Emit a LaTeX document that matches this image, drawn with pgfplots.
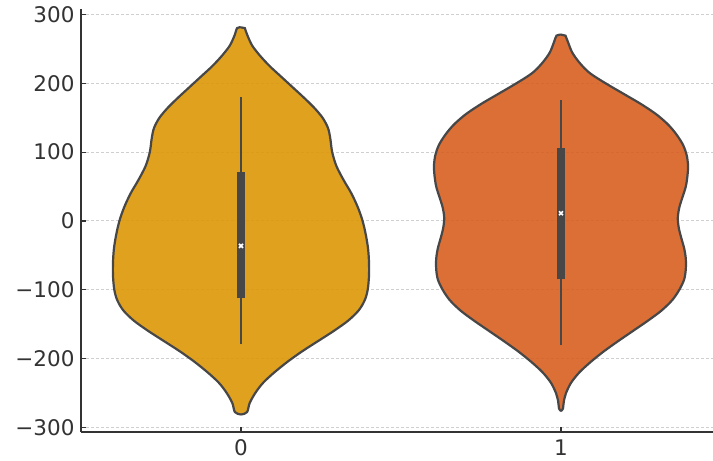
\documentclass[border=0pt]{standalone}
\usepackage{fontspec}
\setmainfont{DejaVu Sans}
\usepackage{pgfplots}
\pgfplotsset{compat=1.18}
\definecolor{goldv}{HTML}{DD9707}
\definecolor{orangev}{HTML}{D75F20}
\definecolor{edgec}{HTML}{474747}
\definecolor{boxc}{HTML}{474747}
\definecolor{gridc}{HTML}{CFCFCF}
\definecolor{axc}{HTML}{333333}
\begin{document}
\begin{tikzpicture}
\begin{axis}[
  scale only axis,
  width=640pt, height=422.5pt,
  xmin=-0.5, xmax=1.5,
  ymin=-307, ymax=307.5,
  axis lines*=left,
  axis line style={color=axc, line width=1.4pt},
  xtick={0,1}, xticklabels={0,1},
  ytick={-300,-200,-100,0,100,200,300},
  yticklabels={−300,−200,−100,0,100,200,300},
  tick align=inside,
  major tick length=5pt,
  tick style={color=axc, line width=1.2pt},
  ymajorgrids,
  grid style={color=gridc, dash pattern=on 3pt off 2pt, line width=0.9pt},
  ticklabel style={font=\fontsize{21.5}{26}\selectfont, text=axc},
  xticklabel style={yshift=-4pt},
  yticklabel style={xshift=-3pt},
  /pgf/number format/assume math mode=true,
]
\coordinate (SW) at (rel axis cs:0,0);
% violin 0
\addplot[draw=edgec, line width=2.2pt, fill=goldv, fill opacity=0.9, smooth, tension=0.5] coordinates {
(0,281.5) (-0.012,280.5) (-0.02,270) (-0.035,255) (-0.06,240) (-0.09,225) (-0.125,210) (-0.16,195) (-0.195,180) (-0.228,165) (-0.255,150) (-0.272,135) (-0.279,120) (-0.285,100) (-0.298,80) (-0.32,60) (-0.345,40) (-0.365,20) (-0.38,0) (-0.39,-20) (-0.397,-40) (-0.4,-60) (-0.4,-80) (-0.396,-100) (-0.387,-115) (-0.368,-130) (-0.335,-145) (-0.29,-160) (-0.24,-175) (-0.19,-190) (-0.145,-205) (-0.105,-220) (-0.07,-235) (-0.045,-250) (-0.027,-265) (-0.019,-278)
(0,-281.5) (0.019,-278) (0.027,-265) (0.045,-250) (0.07,-235) (0.105,-220) (0.145,-205) (0.19,-190) (0.24,-175) (0.29,-160) (0.335,-145) (0.368,-130) (0.387,-115) (0.396,-100) (0.4,-80) (0.4,-60) (0.397,-40) (0.39,-20) (0.38,0) (0.365,20) (0.345,40) (0.32,60) (0.298,80) (0.285,100) (0.279,120) (0.272,135) (0.255,150) (0.228,165) (0.195,180) (0.16,195) (0.125,210) (0.09,225) (0.06,240) (0.035,255) (0.02,270) (0.012,280.5)
} -- cycle;
% violin 1
\addplot[draw=edgec, line width=2.2pt, fill=orangev, fill opacity=0.9, smooth, tension=0.5] coordinates {
(1,271) (0.986,269.5) (0.978,260) (0.965,245) (0.942,230) (0.91,215) (0.86,200) (0.805,185) (0.75,170) (0.702,155) (0.665,140) (0.638,125) (0.618,110) (0.607,95) (0.603,80) (0.605,65) (0.61,50) (0.62,35) (0.63,20) (0.635,5) (0.632,-10) (0.624,-25) (0.615,-40) (0.61,-55) (0.61,-70) (0.615,-85) (0.63,-100) (0.652,-115) (0.685,-130) (0.728,-145) (0.775,-160) (0.822,-175) (0.867,-190) (0.907,-205) (0.942,-220) (0.968,-235) (0.984,-250) (0.991,-262) (0.994,-273)
(1,-276) (1.006,-273) (1.009,-262) (1.016,-250) (1.032,-235) (1.058,-220) (1.093,-205) (1.133,-190) (1.178,-175) (1.225,-160) (1.272,-145) (1.315,-130) (1.348,-115) (1.37,-100) (1.385,-85) (1.39,-70) (1.39,-55) (1.385,-40) (1.376,-25) (1.368,-10) (1.365,5) (1.37,20) (1.38,35) (1.39,50) (1.395,65) (1.397,80) (1.393,95) (1.382,110) (1.362,125) (1.335,140) (1.298,155) (1.25,170) (1.195,185) (1.14,200) (1.09,215) (1.058,230) (1.035,245) (1.022,260) (1.014,269.5)
} -- cycle;
% whiskers
\addplot[draw=boxc, line width=2.6pt] coordinates {(0,-179.5) (0,180)};
\addplot[draw=boxc, line width=2.6pt] coordinates {(1,-180.5) (1,176)};
% boxes
\addplot[draw=boxc, line width=8pt] coordinates {(0,-112.5) (0,71.8)};
\addplot[draw=boxc, line width=8pt] coordinates {(1,-85) (1,105.8)};
% medians
\addplot[only marks, mark=x, mark size=2.8pt, color=white, line width=1.7pt] coordinates {(0,-36.4) (1,11.2)};
\end{axis}
\pgfresetboundingbox
\path[use as bounding box] (SW) ++(-81pt,-29pt) rectangle ++(713pt,461pt);
\end{tikzpicture}
\end{document}
